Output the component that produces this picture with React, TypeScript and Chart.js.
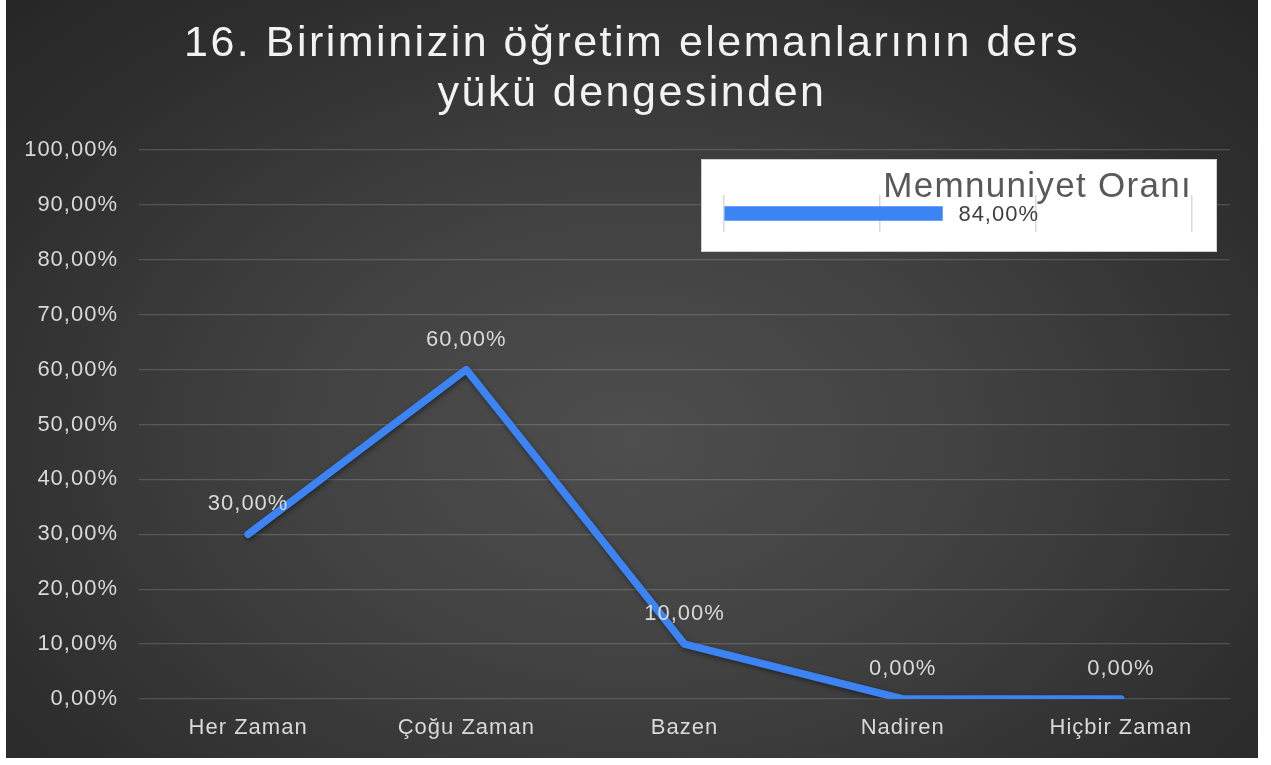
import React, { useEffect, useRef } from 'react';
import { Chart, registerables } from 'chart.js';

Chart.register(...registerables);

// ---- data ----
const TITLE_LINES = ['16. Biriminizin öğretim elemanlarının ders', 'yükü dengesinden'];
const CATEGORIES = ['Her Zaman', 'Çoğu Zaman', 'Bazen', 'Nadiren', 'Hiçbir Zaman'];
const VALUES = [30, 60, 10, 0, 0];
const Y_MIN = 0;
const Y_MAX = 100;
const Y_STEP = 10;

const SUMMARY_LABEL = 'Memnuniyet Oranı';
const SUMMARY_VALUES = [84];
const SUMMARY_MAX = 180;
const SUMMARY_STEP = 60;

// ---- style ----
const BLUE = '#3c84f3';
const FONT = "'Liberation Sans', Arial, sans-serif";
const fmt = (v: number) => Number(v).toFixed(2).replace('.', ',') + '%';

const spacingPlugin = (base: string, title: string) => ({
  id: 'letterSpacing',
  beforeDraw(chart: any) {
    const tb = chart.titleBlock;
    if (tb && !tb.__wrapped) {
      const orig = tb.draw;
      tb.draw = function (...args: any[]) {
        const c = this.ctx;
        const prev = c.letterSpacing;
        c.letterSpacing = title;
        orig.apply(this, args);
        c.letterSpacing = prev;
      };
      tb.__wrapped = true;
    }
    chart.ctx.letterSpacing = base;
  },
});

const lineDecor = {
  id: 'lineDecor',
  beforeDatasetsDraw(chart: any) {
    const c = chart.ctx;
    c.save();
    c.shadowColor = 'rgba(0,0,0,0.45)';
    c.shadowBlur = 5;
    c.shadowOffsetX = 1;
    c.shadowOffsetY = 2;
  },
  afterDatasetsDraw(chart: any) {
    const c = chart.ctx;
    c.restore();
    const meta = chart.getDatasetMeta(0);
    c.save();
    c.font = `22px ${FONT}`;
    c.fillStyle = '#d9d9d9';
    c.textAlign = 'center';
    c.textBaseline = 'middle';
    meta.data.forEach((pt: any, i: number) => {
      c.fillText(fmt(VALUES[i]), pt.x, pt.y - 30);
    });
    c.restore();
  },
};

const barLabel = {
  id: 'barLabel',
  afterDatasetsDraw(chart: any) {
    const c = chart.ctx;
    const meta = chart.getDatasetMeta(0);
    c.save();
    c.font = `22px ${FONT}`;
    c.fillStyle = '#404040';
    c.textAlign = 'left';
    c.textBaseline = 'middle';
    meta.data.forEach((bar: any, i: number) => {
      c.fillText(fmt(SUMMARY_VALUES[i]), bar.x + 16, bar.y + 1);
    });
    c.restore();
  },
};

export default function App() {
  const mainRef = useRef<HTMLCanvasElement>(null);
  const miniRef = useRef<HTMLCanvasElement>(null);

  useEffect(() => {
    const main = new Chart(mainRef.current as HTMLCanvasElement, {
      type: 'line',
      data: {
        labels: CATEGORIES,
        datasets: [
          {
            label: SUMMARY_LABEL,
            data: VALUES,
            borderColor: BLUE,
            backgroundColor: BLUE,
            borderWidth: 7.5,
            pointRadius: 0,
            pointHoverRadius: 0,
            tension: 0,
            borderJoinStyle: 'round',
            borderCapStyle: 'round',
            fill: false,
            yAxisID: 'y',
          },
        ],
      },
      options: {
        animation: false,
        responsive: false,
        maintainAspectRatio: false,
        layout: { padding: { left: 0, right: 0, top: 0, bottom: 0 } },
        plugins: {
          legend: { display: false },
          tooltip: { enabled: false },
          title: {
            display: true,
            text: TITLE_LINES,
            color: '#f2f2f2',
            font: { family: FONT, size: 43, weight: 'normal', lineHeight: 50 / 43 },
            padding: { top: 19, bottom: 31 },
          },
        },
        scales: {
          x: {
            offset: true,
            grid: { display: false, drawTicks: false },
            border: { display: false },
            ticks: {
              color: '#d9d9d9',
              font: { family: FONT, size: 22 },
              padding: 16,
              maxRotation: 0,
              autoSkip: false,
            },
            afterFit: (s: any) => {
              s.height = 59;
            },
          },
          y: {
            position: 'left',
            min: Y_MIN,
            max: Y_MAX,
            ticks: {
              stepSize: Y_STEP,
              callback: (v: any) => fmt(v),
              color: '#d9d9d9',
              font: { family: FONT, size: 22 },
              padding: 21,
            },
            grid: { color: 'rgba(255,255,255,0.16)', lineWidth: 1.3, drawTicks: false },
            border: { display: false },
            afterFit: (s: any) => {
              s.width = 133;
            },
          },
          yRightSpace: {
            position: 'right',
            min: Y_MIN,
            max: Y_MAX,
            grid: { display: false, drawTicks: false },
            border: { display: false },
            ticks: { display: false },
            afterFit: (s: any) => {
              s.width = 28;
            },
          },
        },
      },
      plugins: [spacingPlugin('1px', '2.5px'), lineDecor],
    } as any);

    const mini = new Chart(miniRef.current as HTMLCanvasElement, {
      type: 'bar',
      data: {
        labels: [SUMMARY_LABEL],
        datasets: [
          {
            label: SUMMARY_LABEL,
            data: SUMMARY_VALUES,
            backgroundColor: BLUE,
            borderWidth: 0,
            barThickness: 14,
          },
        ],
      },
      options: {
        indexAxis: 'y',
        animation: false,
        responsive: false,
        maintainAspectRatio: false,
        layout: { padding: { left: 22, right: 24, top: 0, bottom: 19 } },
        plugins: {
          legend: { display: false },
          tooltip: { enabled: false },
          title: {
            display: true,
            text: SUMMARY_LABEL,
            align: 'end',
            color: '#595959',
            font: { family: FONT, size: 35, weight: 'normal', lineHeight: 1.2 },
            padding: { top: 6, bottom: -13 },
          },
        },
        scales: {
          x: {
            min: 0,
            max: SUMMARY_MAX,
            ticks: { display: false, stepSize: SUMMARY_STEP },
            grid: { color: '#d9d9d9', lineWidth: 1.5, drawTicks: false },
            border: { display: false },
          },
          y: { display: false },
        },
      },
      plugins: [spacingPlugin('1px', '1.3px'), barLabel],
    } as any);

    return () => {
      main.destroy();
      mini.destroy();
    };
  }, []);

  return (
    <div style={{ position: 'absolute', left: 0, top: 0, width: 1271, height: 765, background: '#ffffff' }}>
      <div
        style={{
          position: 'absolute',
          left: 6,
          top: 0,
          width: 1252,
          height: 758,
          background:
            'radial-gradient(ellipse 70% 80% at 50% 58%, #4e4e4e 0%, #414141 40%, #2e2e2e 80%, #272727 100%)',
        }}
      >
        <canvas ref={mainRef} width={1252} height={758} style={{ display: 'block' }} />
      </div>
      <div
        style={{
          position: 'absolute',
          left: 701,
          top: 159,
          width: 516,
          height: 93,
          boxSizing: 'border-box',
          border: '1px solid #cfcfcf',
          background: '#ffffff',
        }}
      >
        <canvas ref={miniRef} width={514} height={91} style={{ display: 'block' }} />
      </div>
    </div>
  );
}
